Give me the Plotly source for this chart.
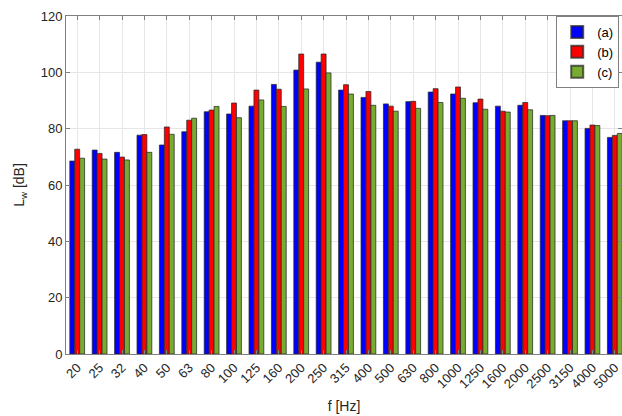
import plotly.graph_objects as go

freqs = ["20", "25", "32", "40", "50", "63", "80", "100", "125", "160", "200", "250",
         "315", "400", "500", "630", "800", "1000", "1250", "1600", "2000", "2500",
         "3150", "4000", "5000"]
series_a = [68.5, 72.4, 71.6, 77.7, 74.2, 78.9, 86.0, 85.2, 88.0, 95.7, 100.8, 103.6,
            93.7, 91.1, 88.8, 89.6, 93.0, 92.3, 89.2, 88.0, 88.3, 84.7, 82.8, 80.1, 76.9]
series_b = [72.7, 71.2, 69.9, 77.9, 80.6, 83.0, 86.6, 89.1, 93.7, 94.0, 106.5, 106.5,
            95.6, 93.2, 88.0, 89.7, 94.2, 94.8, 90.5, 86.2, 89.3, 84.6, 82.8, 81.3, 77.6]
series_c = [69.5, 69.2, 68.9, 71.6, 78.0, 83.7, 87.9, 83.9, 90.2, 87.9, 94.1, 99.8,
            92.3, 88.3, 86.2, 87.2, 89.3, 90.8, 86.9, 85.9, 86.7, 84.7, 82.8, 81.1, 78.3]
names = ["(a)", "(b)", "(c)"]
colors = ["#0000FF", "#FF0000", "#77AC30"]

fig = go.Figure()
for name, vals, col in zip(names, [series_a, series_b, series_c], colors):
    fig.add_trace(go.Bar(x=freqs, y=vals, name=name, marker_color=col,
                         marker_line=dict(color="rgba(40,40,40,0.75)", width=1)))

axis_common = dict(showline=True, linecolor="#808080", linewidth=1, mirror="ticks",
                   ticks="inside", ticklen=4, tickcolor="#808080",
                   showgrid=True, gridcolor="#E6E6E6", gridwidth=1,
                   tickfont=dict(family="Liberation Sans, Arial", size=13, color="#262626"),
                   zeroline=False, automargin=False)

fig.update_layout(
    width=622, height=416,
    margin=dict(l=66, r=0, t=16, b=62),
    paper_bgcolor="white", plot_bgcolor="white",
    barmode="group", bargap=0.34, bargroupgap=0.0,
    font=dict(family="Liberation Sans, Arial", size=13, color="#262626"),
    xaxis=dict(type="category", range=[-0.5, 24.32], tickangle=-45,
               title=dict(text="f [Hz]", font=dict(size=14), standoff=10), **axis_common),
    yaxis=dict(range=[0, 120], dtick=20,
               title=dict(text="L<sub>w</sub> [dB]", font=dict(size=14), standoff=12), **axis_common),
    legend=dict(x=0.995, y=1.0, xanchor="right", yanchor="top",
                bgcolor="white", bordercolor="#808080", borderwidth=1,
                font=dict(size=13, color="#000000"), tracegroupgap=0,
                itemsizing="constant", itemwidth=30),
)

fig.write_html("out.html", config={"displayModeBar": False},
               post_script="document.body.style.margin='0';document.body.style.overflow='hidden';")
